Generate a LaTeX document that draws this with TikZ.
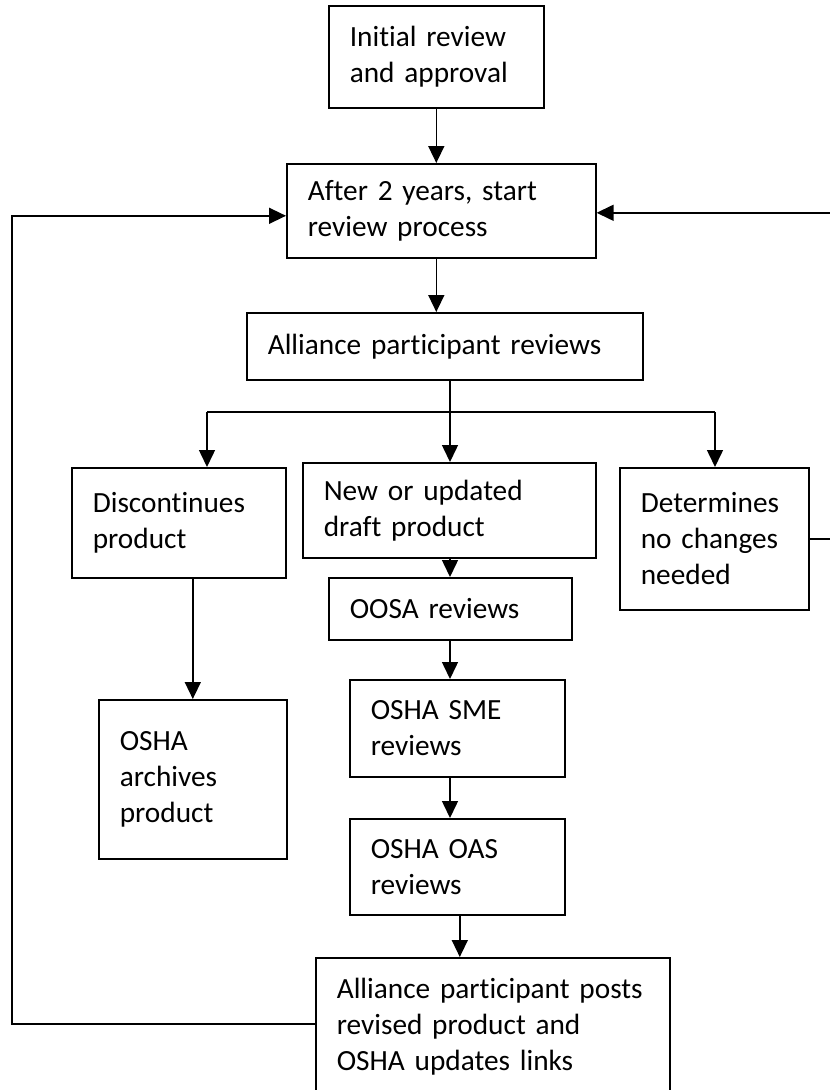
\documentclass[tikz,border=0pt]{standalone}
\usepackage{fontspec}
\setmainfont[Ligatures=NoCommon]{Carlito}
\usetikzlibrary{arrows.meta}
\tikzset{
	stage/.style={draw, line width=1.6pt, anchor=north west, align=left, inner xsep=21pt, inner ysep=0pt, font=\fontsize{29.3}{36}\selectfont},
	flow/.style={line width=1.5pt, -{Triangle[length=17pt,width=16pt]}},
	link/.style={line width=1.5pt}
}

\begin{document}
\begin{tikzpicture}[x=1pt, y=-1pt]
			%%%%% START %%%%%
			
			\useasboundingbox (0,0) rectangle (830,1090);
			\clip (0,0) rectangle (830,1090);
			
			\node[stage, text width=173pt, minimum height=102pt] (init) at (328,5) {Initial review\\and approval};
			\node[stage, text width=267pt, minimum height=94pt] (start) at (286,163) {After 2 years, start\\review process};
			\node[stage, text width=354pt, minimum height=67pt] (alli) at (246,312) {Alliance participant reviews};
			
			\node[stage, text width=172pt, minimum height=110pt] (disc) at (71,467) {Discontinues\\product};
			\node[stage, text width=251pt, minimum height=95pt] (draft) at (302,462) {New or updated\\draft product};
			\node[stage, text width=147pt, minimum height=142pt] (nochg) at (619,467) {Determines\\no changes\\needed};
			
			\node[stage, text width=201pt, minimum height=62pt] (oosa) at (328,577) {OOSA reviews};
			\node[stage, text width=173pt, minimum height=97pt] (sme) at (349,679) {OSHA SME\\reviews};
			\node[stage, text width=173pt, minimum height=96pt] (oas) at (349,818) {OSHA OAS\\reviews};
			\node[stage, text width=146pt, minimum height=159pt] (arch) at (98,699) {OSHA\\archives\\product};
			\node[stage, text width=312pt, minimum height=138pt] (post) at (315,957) {Alliance participant posts\\revised product and\\OSHA updates links};
			
			\coordinate (fork) at (450,412);
			\coordinate (forkL) at (207,412);
			\coordinate (forkR) at (715,412);
			
			\draw[flow] (init.south) -- (init.south |- start.north);
			\draw[flow] ([xshift=-5pt]start.south) -- ([xshift=-5pt]start.south |- alli.north);
			
			\draw[flow] (alli.south -| fork) -- (draft.north -| fork);
			\draw[link] (forkL) -- (forkR);
			\draw[flow] (forkL) -- (disc.north -| forkL);
			\draw[flow] (forkR) -- (nochg.north -| forkR);
			
			\draw[flow] (draft.south -| fork) -- (oosa.north -| fork);
			\draw[flow] (oosa.south -| fork) -- (sme.north -| fork);
			\draw[flow] (sme.south -| fork) -- (oas.north -| fork);
			\draw[flow] ([xshift=2.5pt]oas.south) -- ([xshift=2.5pt]oas.south |- post.north);
			\draw[flow] (disc.south -| arch.north) -- (arch.north);
			
			\draw[flow] ([yshift=3pt]post.west) -- ++(-303,0) |- ([yshift=-5pt]start.west);
			\draw[flow] (nochg.east) -- ++(30,0) |- ([yshift=-2pt]start.east);
			
			%%%%% END %%%%%
\end{tikzpicture}
\end{document}
